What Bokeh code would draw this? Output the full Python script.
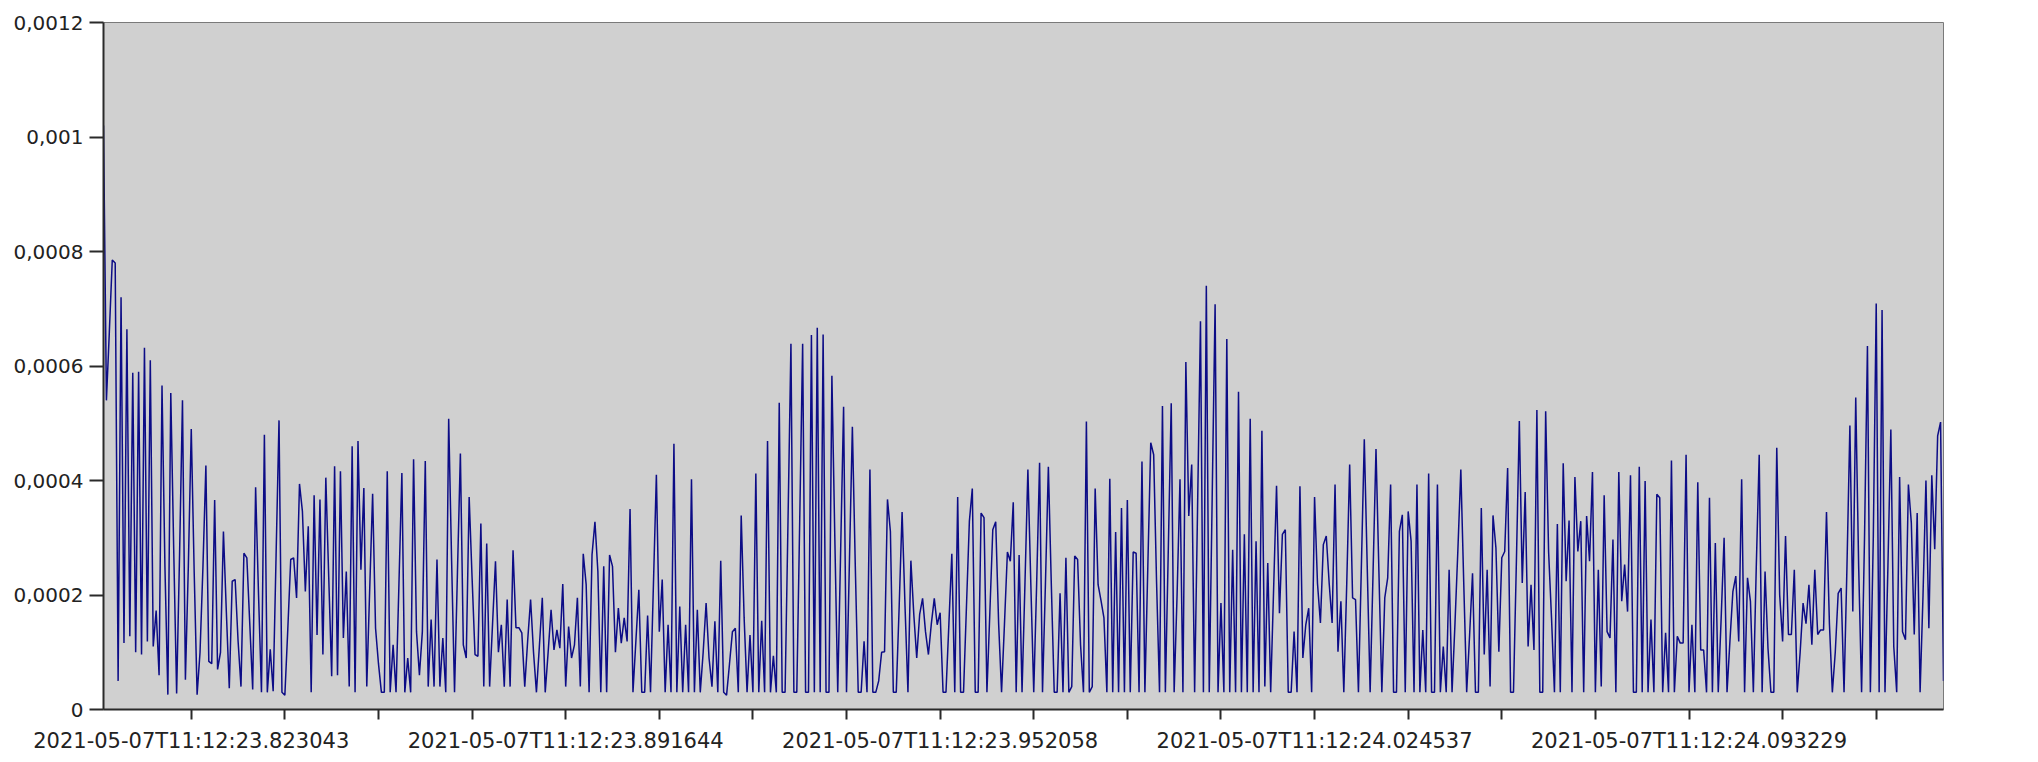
from bokeh.plotting import figure
from bokeh.models import Range1d, FixedTicker, CustomJSTickFormatter
from bokeh.embed import file_html
from bokeh.resources import INLINE

# amplitude samples, left to right (8 consecutive stretches)
seg1 = [0.00102, 0.00054, 0.00066, 0.000785, 0.00078, 0.00005, 0.00072, 0.000116, 0.000664, 0.000128,
        0.000588, 0.0001, 0.00059, 0.000096, 0.000632, 0.000119, 0.00061, 0.00011, 0.000173, 0.00006,
        0.000566, 0.00025, 0.000026, 0.000553, 0.00028, 0.000028, 0.00027, 0.00054, 0.000052, 0.00025,
        0.00049, 0.00024, 0.000026, 0.0001, 0.00025, 0.000426, 0.000084, 0.00008, 0.000366, 0.00007,
        0.0001, 0.000311, 0.00017, 0.000037, 0.000224, 0.000227, 0.00012, 0.00004, 0.000273, 0.000265,
        0.00015, 0.000035, 0.000388, 0.0002, 0.00003, 0.00048, 0.00003, 0.000105, 0.000032, 0.00027,
        0.000505, 0.00003, 0.000025, 0.00014, 0.000262, 0.000265, 0.000195, 0.000394, 0.000346, 0.000206,
        0.00032, 0.00003, 0.000374, 0.00013, 0.000367, 0.000096, 0.000405, 0.00023, 0.000058, 0.000425]
seg2 = [0.00006, 0.000416, 0.000125, 0.000241, 0.00004, 0.00046, 0.00003, 0.000469, 0.000244, 0.000387,
        0.00004, 0.00021, 0.000377, 0.000142, 0.00008, 0.00003, 0.00003, 0.000416, 0.00003, 0.000113,
        0.00003, 0.00022, 0.000413, 0.00003, 0.00009, 0.00003, 0.000437, 0.000136, 0.00006, 0.000136,
        0.000434, 0.00004, 0.000157, 0.00004, 0.000262, 0.00004, 0.000125, 0.00003, 0.000508, 0.00026,
        0.00003, 0.00024, 0.000447, 0.000113, 0.00009, 0.000371, 0.00023, 0.000096, 0.000093, 0.000325,
        0.00004, 0.00029, 0.00004, 0.00015, 0.000259, 0.0001, 0.000148, 0.00004, 0.000192, 0.00004,
        0.000278, 0.000143, 0.000143, 0.000134, 0.00004, 0.00012, 0.000192, 0.0001, 0.00003, 0.00011,
        0.000195, 0.00003, 0.0001, 0.000174, 0.000104, 0.000139, 0.000107, 0.000219, 0.00004, 0.000145]
seg3 = [0.00009, 0.000113, 0.000195, 0.00004, 0.000272, 0.000218, 0.00003, 0.00027, 0.000328, 0.000241,
        0.00003, 0.00025, 0.00003, 0.00027, 0.00025, 0.0001, 0.000177, 0.000116, 0.00016, 0.000119,
        0.00035, 0.00003, 0.00012, 0.000209, 0.00003, 0.00003, 0.000164, 0.00003, 0.00022, 0.00041,
        0.000136, 0.000227, 0.00003, 0.000148, 0.00003, 0.000464, 0.00003, 0.00018, 0.00003, 0.000148,
        0.00003, 0.000402, 0.00003, 0.000174, 0.00003, 0.0001, 0.000186, 0.00009, 0.00004, 0.000154, 0.00003,
        0.00026, 0.00003, 0.000025, 0.00008, 0.000136, 0.000142, 0.00003, 0.000339, 0.00016, 0.00003,
        0.00013, 0.00003, 0.000412, 0.00003, 0.000155, 0.00003, 0.000469, 0.00003, 0.000094, 0.00003,
        0.000536, 0.00003, 0.00003, 0.00033, 0.000639, 0.00003]
seg4 = [0.00003, 0.00033, 0.000639, 0.00003, 0.00003, 0.000654, 0.00003, 0.000667, 0.00003, 0.000655,
        0.00003, 0.00003, 0.000583, 0.0003, 0.00003, 0.00028, 0.000529, 0.00003, 0.00026, 0.000494, 0.00025, 0.00003,
        0.00003, 0.000119, 0.00003, 0.000419, 0.00003, 0.00003, 0.00005, 0.0001, 0.000101, 0.000367,
        0.000311, 0.00003, 0.00003, 0.00018, 0.000345, 0.00018, 0.00003, 0.00026, 0.000166, 0.00009, 0.000166,
        0.000194, 0.000136, 0.000096, 0.00015, 0.000194, 0.000148, 0.000169, 0.00003, 0.00003, 0.00015,
        0.000272, 0.00003, 0.000371, 0.00003, 0.00003, 0.00018, 0.000329, 0.000386, 0.00003, 0.00003,
        0.000343, 0.000335, 0.00003, 0.00017, 0.000314, 0.000328, 0.00015, 0.00003, 0.00015, 0.000275,
        0.000259, 0.000362, 0.00003, 0.00027, 0.00003]
seg5 = [0.00022, 0.000419, 0.00022, 0.00003, 0.00022, 0.000431, 0.00003, 0.00022, 0.000424, 0.00022, 0.00003,
        0.00003, 0.000203, 0.00003, 0.000265, 0.00003, 0.00004, 0.000268, 0.000262, 0.000113, 0.00003,
        0.000503, 0.00003, 0.00004, 0.000386, 0.000218, 0.00019, 0.00016, 0.00003, 0.000403, 0.00003,
        0.00031, 0.00003, 0.000352, 0.00003, 0.000366, 0.00003, 0.000275, 0.000273, 0.00003, 0.000433,
        0.00003, 0.00025, 0.000466, 0.000445, 0.00022, 0.00003, 0.00053, 0.00003, 0.00028, 0.000535, 0.00003,
        0.0002, 0.000402, 0.00003, 0.000607, 0.000338, 0.000428, 0.00003, 0.00035, 0.000678, 0.00003, 0.00074,
        0.00003, 0.00037, 0.000708, 0.00003, 0.000186, 0.00003, 0.000647, 0.00003, 0.000279, 0.00003,
        0.000555, 0.00003, 0.000306, 0.00003, 0.000508, 0.00003]
seg6 = [0.000294, 0.00003, 0.000487, 0.00004, 0.000256, 0.00003, 0.00021, 0.000391, 0.000168,
        0.000306, 0.000314, 0.00003, 0.00003, 0.000136, 0.00003, 0.00039, 0.00009, 0.000148,
        0.000177, 0.00003, 0.000371, 0.00022, 0.000151, 0.000288, 0.000303, 0.00022, 0.000151, 0.000393,
        0.000101, 0.000189, 0.00003, 0.00022, 0.000428, 0.000195, 0.000192, 0.00003, 0.00025, 0.000472,
        0.00025, 0.00003, 0.00024, 0.000455, 0.00024, 0.00003, 0.000195, 0.00023, 0.000393, 0.00003,
        0.00003, 0.000311, 0.00034, 0.00003, 0.000346, 0.000294, 0.00003, 0.000393, 0.00003, 0.000139,
        0.00003, 0.000412, 0.00003, 0.00003, 0.000393, 0.00003, 0.00011, 0.00003, 0.000244,
        0.00003, 0.00015, 0.00028, 0.000419, 0.00022, 0.00003, 0.00013, 0.000238, 0.00003, 0.00003,
        0.000352, 0.000096, 0.000244]
seg7 = [0.00004, 0.000339, 0.000282, 0.000101, 0.000265, 0.000276, 0.000422, 0.00003, 0.00003, 0.00026,
        0.000504, 0.000221, 0.00038, 0.00011, 0.000218, 0.000104, 0.000523, 0.00003, 0.00003, 0.000521,
        0.000276, 0.00016, 0.00003, 0.000324, 0.00003, 0.00043, 0.000224, 0.00033, 0.00003, 0.000406,
        0.000276, 0.000329, 0.00003, 0.000338, 0.000259, 0.000415, 0.00003, 0.000244, 0.00004, 0.000374,
        0.000136, 0.000125, 0.000297, 0.00003, 0.000415, 0.000189, 0.000253, 0.000171, 0.000409, 0.00003,
        0.00003, 0.000424, 0.00003, 0.000399, 0.00003, 0.000157, 0.00003, 0.000376, 0.00037, 0.00003,
        0.000134, 0.00003, 0.000435, 0.00003, 0.000128, 0.000116, 0.000116, 0.000445, 0.00003, 0.000148,
        0.00003, 0.000397, 0.000104, 0.000104, 0.00003, 0.00037, 0.00003]
seg8 = [0.000291, 0.00003, 0.00016, 0.0003, 0.00003, 0.00012, 0.000206, 0.000233, 0.000119, 0.000402,
        0.00003, 0.00023, 0.000189, 0.00003, 0.00025, 0.000445, 0.00003, 0.000241, 0.000107, 0.00003,
        0.00003, 0.000457, 0.0002, 0.000119, 0.000303, 0.000131, 0.000131, 0.000244, 0.00003, 0.0001,
        0.000186, 0.00015, 0.000218, 0.000113, 0.000244, 0.000131, 0.000139, 0.000139, 0.000345, 0.00015,
        0.00003, 0.0001, 0.000203, 0.000212, 0.00003, 0.00025, 0.000496, 0.000171, 0.000545, 0.00025,
        0.00003, 0.0003, 0.000635, 0.00003, 0.0003, 0.000709, 0.00003, 0.000698, 0.00003, 0.00025,
        0.000489, 0.00011, 0.00003, 0.000406, 0.000136, 0.000122, 0.000393, 0.000326, 0.000131, 0.000343,
        0.00003, 0.0002, 0.0004, 0.000142, 0.000409, 0.00028, 0.000478, 0.000502, 0.00005]

amplitude = seg1 + seg2 + seg3 + seg4 + seg5 + seg6 + seg7 + seg8
sample = list(range(len(amplitude)))

# x ticks (sample numbers) and the timestamp labels shown under every 4th tick
tick_samples = [30, 62, 94, 126, 158, 190, 222, 254, 286, 318, 350, 382, 414, 446, 478, 510, 542, 574, 606]
label_samples = [30, 158, 286, 414, 542]
label_texts = ["2021-05-07T11:12:23.823043", "2021-05-07T11:12:23.891644",
               "2021-05-07T11:12:23.952058", "2021-05-07T11:12:24.024537",
               "2021-05-07T11:12:24.093229"]

y_ticks = [0, 0.0002, 0.0004, 0.0006, 0.0008, 0.001, 0.0012]
y_labels = ["0", "0,0002", "0,0004", "0,0006", "0,0008", "0,001", "0,0012"]

p = figure(width=1965, height=755,
           x_range=Range1d(0, len(amplitude) - 1), y_range=Range1d(0, 0.0012),
           output_backend="svg", toolbar_location=None,
           min_border_left=103, min_border_top=22, min_border_right=22, min_border_bottom=45)

p.background_fill_color = "#d0d0d0"
p.border_fill_color = "white"
p.outline_line_color = "#7a7a7a"
p.outline_line_width = 1
p.grid.visible = False

p.line(sample, amplitude, line_color="#0c0c86", line_width=1.5)

p.xaxis.ticker = FixedTicker(ticks=tick_samples)
p.xaxis.formatter = CustomJSTickFormatter(
    args=dict(pos=label_samples, txt=label_texts),
    code="const i = pos.indexOf(Math.round(tick)); return (i >= 0 && Math.abs(tick - pos[i]) < 1e-6) ? txt[i] : '';")
p.yaxis.ticker = FixedTicker(ticks=y_ticks)
p.yaxis.formatter = CustomJSTickFormatter(
    args=dict(pos=y_ticks, txt=y_labels),
    code="for (let i = 0; i < pos.length; i++) { if (Math.abs(pos[i] - tick) < 1e-9) return txt[i]; } return '';")

for ax in (p.xaxis, p.yaxis):
    ax.axis_line_color = "#2a2a2a"
    ax.axis_line_width = 2
    ax.major_tick_line_color = "#2a2a2a"
    ax.major_tick_line_width = 2
    ax.major_tick_in = 0
    ax.minor_tick_line_color = None
    ax.major_label_text_font = "DejaVu Sans"
    ax.major_label_text_color = "#222222"

p.xaxis.major_label_text_font_size = "21px"
p.yaxis.major_label_text_font_size = "20px"
p.xaxis.major_tick_out = 10
p.xaxis.major_label_standoff = 9
p.yaxis.major_tick_out = 14
p.yaxis.major_label_standoff = 6

open("out.html", "w").write(file_html(p, INLINE))
